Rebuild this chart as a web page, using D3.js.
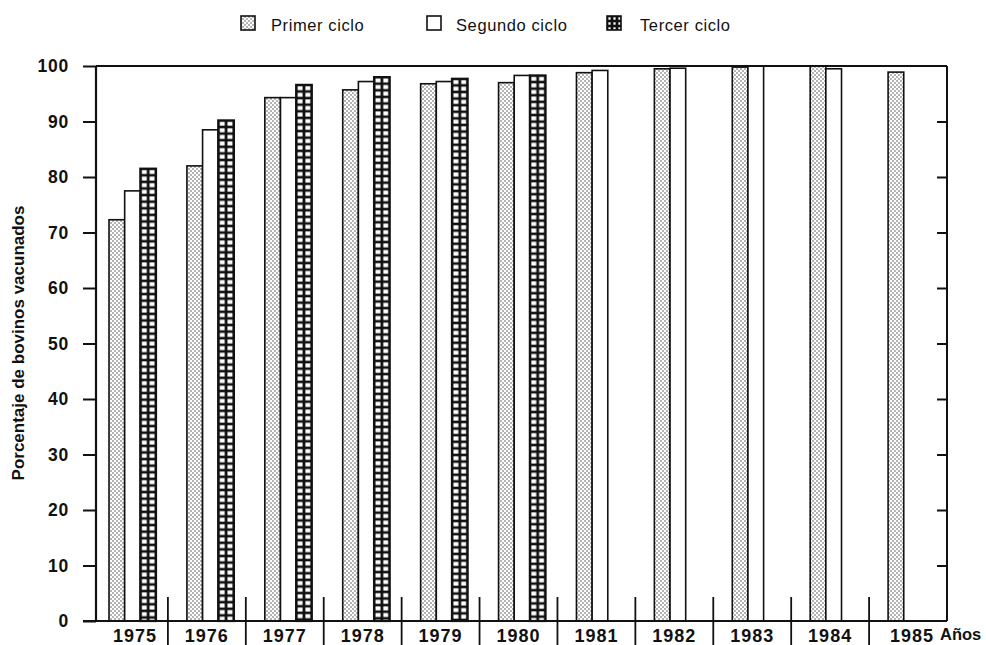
<!DOCTYPE html>
<html>
<head>
<meta charset="utf-8">
<script src="https://cdn.jsdelivr.net/npm/d3@7"></script>
<style>
  body { margin: 0; background: #fff; }
  svg { display: block; font-family: "Liberation Sans", Arial, sans-serif; }
</style>
</head>
<body>
<svg id="chart" width="986" height="645"></svg>
<script>
// data
var years   = ["1975","1976","1977","1978","1979","1980","1981","1982","1983","1984","1985"];
var series  = ["Primer ciclo","Segundo ciclo","Tercer ciclo"];
var primer  = [72.3, 82.0, 94.3, 95.7, 96.8, 97.0, 98.8, 99.5, 99.8, 100, 98.9];
var segundo = [77.5, 88.5, 94.3, 97.2, 97.2, 98.3, 99.2, 99.6, 100, 99.5, null];
var tercer  = [81.5, 90.2, 96.6, 98.0, 97.7, 98.3, null, null, null, null, null];
var yTicks  = [0,10,20,30,40,50,60,70,80,90,100];

var svg = d3.select("#chart");
var defs = svg.append("defs");

var x = d3.scaleBand().domain(years).range([90, 947]);
var x1 = d3.scaleBand().domain(series).range([19, 66]);
var y = d3.scaleLinear().domain([0, 100]).range([621, 66]);

// dotted fill
var dots = defs.append("pattern").attr("id", "dots")
    .attr("patternUnits", "userSpaceOnUse").attr("width", 4).attr("height", 4);
dots.append("rect").attr("width", 4).attr("height", 4).attr("fill", "#fff");
dots.append("circle").attr("cx", 1).attr("cy", 1).attr("r", 0.8).attr("fill", "#555");
dots.append("circle").attr("cx", 3).attr("cy", 3).attr("r", 0.8).attr("fill", "#555");

function gridPattern(id, px, py, cw, ch) {
  var p = defs.append("pattern").attr("id", id)
      .attr("patternUnits", "userSpaceOnUse")
      .attr("x", px).attr("y", py).attr("width", cw).attr("height", ch);
  p.append("rect").attr("width", cw).attr("height", ch).attr("fill", "#111");
  p.append("rect").attr("x", 1.4).attr("y", 1.3).attr("width", cw - 2.8).attr("height", ch - 2.6).attr("fill", "#fff");
}

var rows = years.map(function(yr, i) {
  return [
    {year: yr, s: series[0], v: primer[i]},
    {year: yr, s: series[1], v: segundo[i]},
    {year: yr, s: series[2], v: tercer[i]}
  ].filter(function(d) { return d.v != null; });
});
var bars = [].concat.apply([], rows);

bars.forEach(function(d, i) {
  d.x = x(d.year) + x1(d.s);
  d.y = y(d.v);
  if (d.s == series[2]) {
    d.pid = "grid" + i;
    gridPattern(d.pid, d.x, d.y, x1.bandwidth() / 2, 6.6);
  }
});

function fillFor(d) {
  if (d.s == series[0]) return "url(#dots)";
  if (d.s == series[1]) return "#fff";
  return "url(#" + d.pid + ")";
}

svg.append("g").selectAll("rect")
    .data(bars)
  .enter().append("rect")
    .attr("x", function(d) { return d.x; })
    .attr("y", function(d) { return d.y; })
    .attr("width", x1.bandwidth())
    .attr("height", function(d) { return y(0) - d.y; })
    .attr("fill", fillFor)
    .attr("stroke", "#111")
    .attr("stroke-width", function(d) { return d.s == series[2] ? 2.2 : 1.6; });

// left axis
var yAxis = d3.axisLeft(y).tickValues(yTicks).tickSize(13).tickPadding(14);
var gy = svg.append("g").attr("transform", "translate(96,0)").call(yAxis);
gy.select(".domain").remove();
gy.selectAll("line").attr("stroke", "#111").attr("stroke-width", 2);
gy.selectAll("text").attr("font-size", 17.5).attr("font-weight", "bold")
    .attr("letter-spacing", 0.8).attr("fill", "#111");
svg.append("line").attr("x1", 96).attr("x2", 96).attr("y1", y(100)).attr("y2", y(0))
    .attr("stroke", "#111").attr("stroke-width", 2.2);

// right axis with inward ticks
var yRight = d3.axisLeft(y).tickValues(yTicks.slice(1, 10)).tickSize(10).tickFormat("");
var gr = svg.append("g").attr("transform", "translate(947,0)").call(yRight);
gr.select(".domain").remove();
gr.selectAll("line").attr("stroke", "#111").attr("stroke-width", 2);
svg.append("line").attr("x1", 947).attr("x2", 947).attr("y1", y(100)).attr("y2", y(0))
    .attr("stroke", "#111").attr("stroke-width", 2);

// top frame and baseline
svg.append("line").attr("x1", 96).attr("x2", 947).attr("y1", y(100)).attr("y2", y(100))
    .attr("stroke", "#111").attr("stroke-width", 2);
svg.append("line").attr("x1", 83).attr("x2", 947).attr("y1", y(0)).attr("y2", y(0))
    .attr("stroke", "#111").attr("stroke-width", 2);

// year dividers and labels
svg.append("g").selectAll("line")
    .data(years.slice(1))
  .enter().append("line")
    .attr("x1", function(d) { return x(d); })
    .attr("x2", function(d) { return x(d); })
    .attr("y1", 597).attr("y2", 645)
    .attr("stroke", "#111").attr("stroke-width", 1.8);

svg.append("g").selectAll("text")
    .data(years)
  .enter().append("text")
    .attr("x", function(d) { return x(d) + x.bandwidth() / 2 + (d == "1985" ? 4 : (d == "1975" ? 6 : 0)); })
    .attr("y", 642)
    .attr("text-anchor", "middle")
    .attr("font-size", 18).attr("font-weight", "bold").attr("letter-spacing", 1)
    .attr("fill", "#111")
    .text(function(d) { return d; });

svg.append("text").attr("x", 940).attr("y", 640)
    .attr("font-size", 16.5).attr("font-weight", "bold").attr("fill", "#111")
    .text("Años");

// y title
svg.append("text")
    .attr("transform", "translate(24,343) rotate(-90)")
    .attr("text-anchor", "middle")
    .attr("font-size", 17).attr("font-weight", "bold").attr("fill", "#111")
    .text("Porcentaje de bovinos vacunados");

// legend
var legendX = [241, 427, 607];
var legendText = [271, 456, 640];
gridPattern("gridLegend", 607, 16, 5, 5);
var legendFill = ["url(#dots)", "#fff", "url(#gridLegend)"];
var lg = svg.append("g");
series.forEach(function(s, i) {
  lg.append("rect").attr("x", legendX[i]).attr("y", 16).attr("width", 14).attr("height", 14)
      .attr("fill", legendFill[i]).attr("stroke", "#111").attr("stroke-width", 1.6);
  lg.append("text").attr("x", legendText[i]).attr("y", 31)
      .attr("font-size", 16.5).attr("letter-spacing", 0.6).attr("fill", "#111")
      .text(s);
});
</script>
</body>
</html>
